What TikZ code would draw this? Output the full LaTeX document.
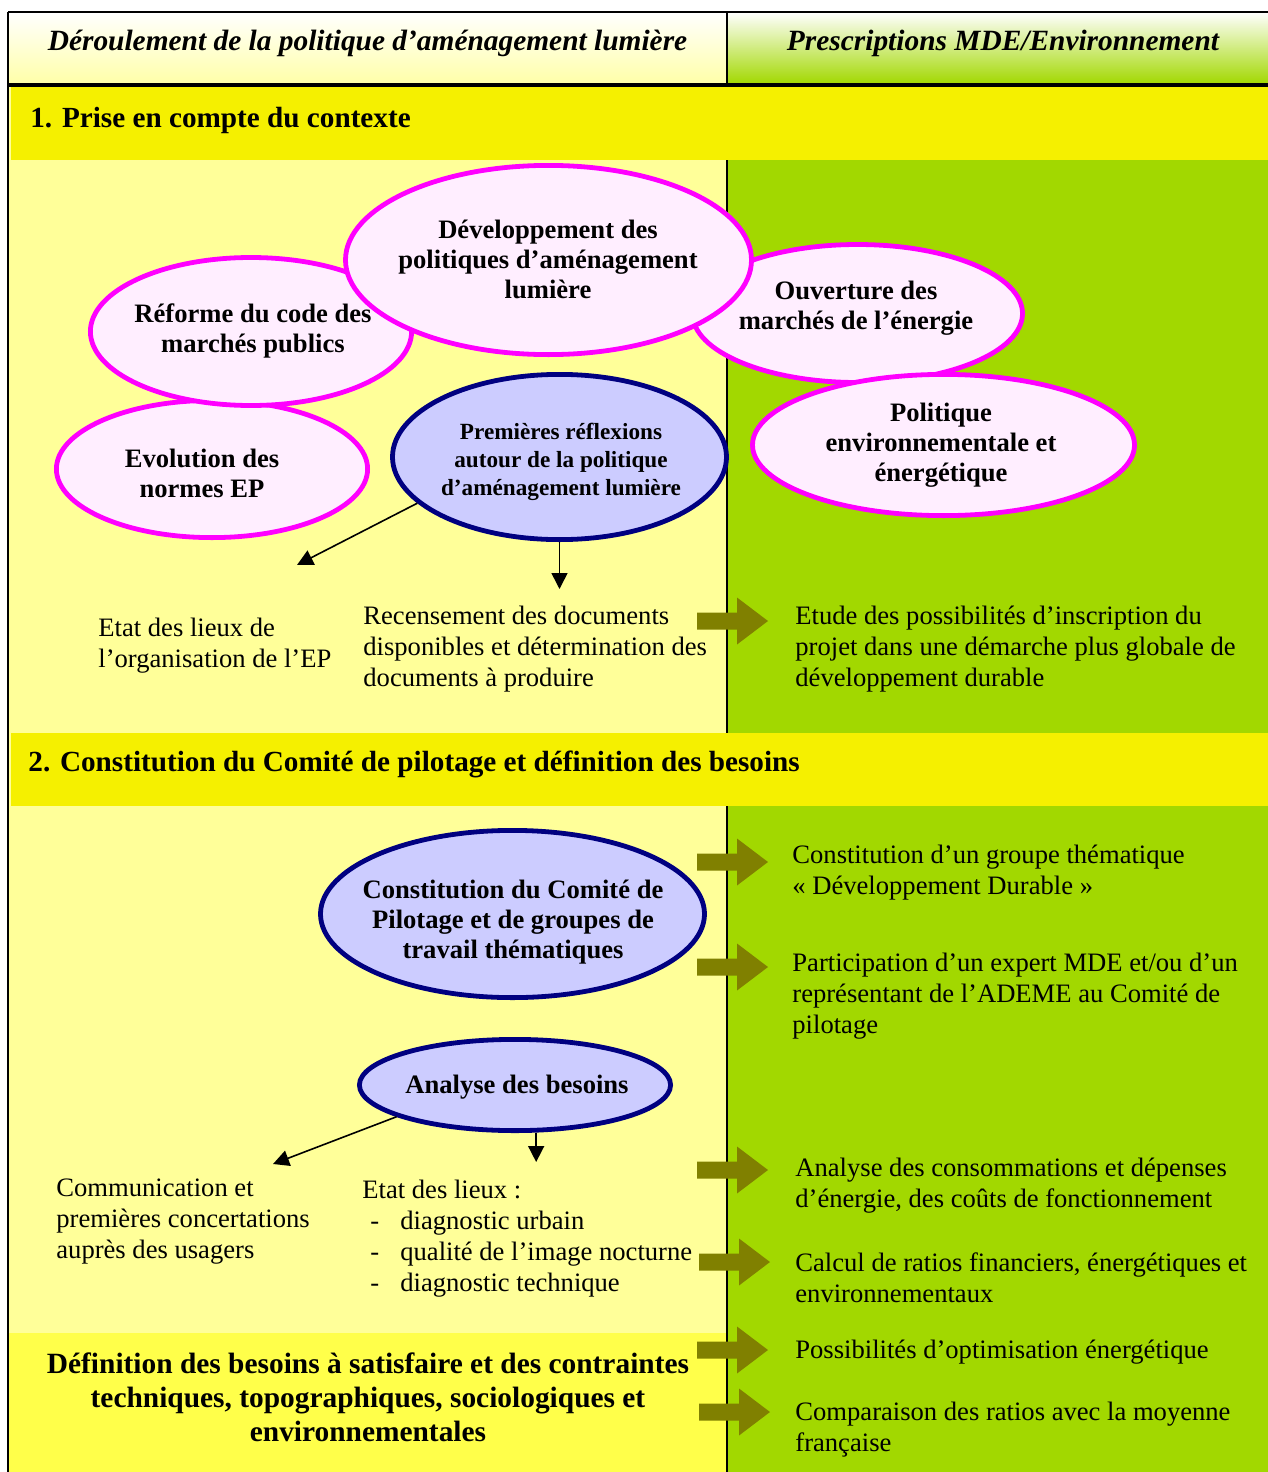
\documentclass[tikz,border=0pt]{standalone}
\usepackage{fontspec}
\setmainfont{Liberation Serif}
\usetikzlibrary{shapes.geometric,arrows.meta}
\definecolor{paleY}{HTML}{FFFF99}
\definecolor{greenR}{HTML}{A2D800}
\definecolor{bandY}{HTML}{F5F000}
\definecolor{boxY}{HTML}{FFFF4A}
\definecolor{pinkF}{HTML}{FFEEFF}
\definecolor{magB}{HTML}{FF00FF}
\definecolor{blueF}{HTML}{CCCCFF}
\definecolor{navyB}{HTML}{000080}
\definecolor{oliveA}{HTML}{808000}
\definecolor{hdrY}{HTML}{FFFFA8}
\newcommand\itm{\makebox[19pt][l]{\hspace{4pt}-}}
\newcommand\bigarr[2]{\fill[oliveA] (#1,#2) ++(0,-8.5) -- ++(40,0) -- ++(0,-15) -- ++(31,23.5) -- ++(-31,23.5) -- ++(0,-15) -- ++(-40,0) -- cycle;}
\begin{document}
\begin{tikzpicture}[x=0.5pt,y=-0.5pt,
  ell/.style={ellipse, draw=magB, fill=pinkF, line width=2.4pt, inner sep=0},
  bell/.style={ellipse, draw=navyB, fill=blueF, line width=2.4pt, inner sep=0},
  etxt/.style={font=\bfseries\fontsize{13.3}{15}\selectfont, align=center, inner sep=0},
  stxt/.style={font=\bfseries\fontsize{11.6}{14}\selectfont, align=center, inner sep=0},
  txt/.style={font=\fontsize{13.3}{15.5}\selectfont, align=left, inner sep=0, anchor=west},
  hdr/.style={font=\bfseries\itshape\fontsize{14.7}{17}\selectfont, inner sep=0},
  band/.style={font=\bfseries\fontsize{14.6}{17}\selectfont, inner sep=0, anchor=west},
  conn/.style={line width=0.8pt, -{Triangle[length=8pt,width=8pt]}},
]
\useasboundingbox (0,0) rectangle (1268,1472);
\fill[white] (0,0) rectangle (1268,1472);
% header
\shade[top color=white, bottom color=hdrY] (8,12) rectangle (727,84);
\shade[top color=white, bottom color=greenR] (727,12) rectangle (1268,84);
% backgrounds
\fill[paleY] (8,84) rectangle (727,1472);
\fill[greenR] (727,84) rectangle (1268,1472);
\fill[boxY] (8,1333) rectangle (727,1472);
\draw[line width=0.6pt] (727,12) -- (727,1472);
\fill[bandY] (11,87) rectangle (1268,160);
\fill[bandY] (11,733) rectangle (1268,806);
\draw[line width=0.8pt] (8,12) -- (1268,12);
\draw[line width=1.6pt] (8,85) -- (1268,85);
\draw[line width=0.6pt] (8,12) -- (8,1472);
% header texts
\node[hdr] (h1) at (367.5,43) {Déroulement de la politique d’aménagement lumière};
\node[hdr] (h2) at (1003,43) {Prescriptions MDE/Environnement};
\node[band] (s1) at (30,120) {1. Prise en compte du contexte};
\node[band] (s2) at (28,764) {2. Constitution du Comité de pilotage et définition des besoins};
% ellipses section 1
\node[ell, minimum width=155.6pt, minimum height=68.6pt] (evo) at (212,469) {};
\node[ell, minimum width=160.6pt, minimum height=74pt] (ref) at (251,331.5) {};
\node[ell, minimum width=165pt, minimum height=69pt] (ouv) at (857.5,313.5) {};
\node[ell, minimum width=191pt, minimum height=70.6pt] (pol) at (943.5,445) {};
\node[ell, minimum width=203pt, minimum height=94.6pt] (dev) at (548.5,260) {};
\node[bell, minimum width=167pt, minimum height=82.6pt] (prem) at (559.5,457) {};
\node[etxt] (evot) at (202,473) {Evolution des\\normes EP};
\node[etxt] (reft) at (253,331) {Réforme du code des\\marchés publics};
\node[etxt] (ouvt) at (856,308) {Ouverture des\\marchés de l’énergie};
\node[etxt] (polt) at (941,445) {Politique\\environnementale et\\énergétique};
\node[etxt] (devt) at (548,259) {Développement des\\politiques d’aménagement\\lumière};
\node[stxt] (premt) at (561,461.5) {Premières réflexions\\autour de la politique\\d’aménagement lumière};
% section 1 texts
\coordinate (tipA) at (297,565);
\coordinate (tipB) at (559.5,589);
\draw[conn] (prem.198.7) -- (tipA);
\draw[conn] (prem.south) -- (tipB);
\node[txt] (etatEP) at (98,645.5) {Etat des lieux de\\l’organisation de l’EP};
\node[txt] (recens) at (363,649) {Recensement des documents\\disponibles et détermination des\\documents à produire};
\node[txt] (etude) at (795,649) {Etude des possibilités d’inscription du\\projet dans une démarche plus globale de\\développement durable};
% section 2 ellipses
\node[bell, minimum width=192pt, minimum height=83.6pt] (const) at (512.5,914) {};
\node[bell, minimum width=155.6pt, minimum height=45.6pt] (ana) at (515,1085) {};
\node[etxt] (constt) at (513,922) {Constitution du Comité de\\Pilotage et de groupes de\\travail thématiques};
\node[etxt] (anat) at (517,1087) {Analyse des besoins};
\coordinate (tipC) at (273,1164);
\coordinate (tipD) at (536,1162);
\draw[conn] (ana.195) -- (tipC);
\draw[conn] (ana.-66) -- (ana.-66 |- tipD);
\node[txt] (comm) at (56,1222) {Communication et\\premières concertations\\auprès des usagers};
\node[txt] (etatL) at (362,1238.5) {Etat des lieux :\\\itm diagnostic urbain\\\itm qualité de l’image nocturne\\\itm diagnostic technique};
\node[font=\bfseries\fontsize{14.7}{17}\selectfont, align=center, inner sep=0] (defb) at (368,1397) {Définition des besoins à satisfaire et des contraintes\\techniques, topographiques, sociologiques et\\environnementales};
% right texts
\node[txt] (grp) at (792,872.5) {Constitution d’un groupe thématique\\« Développement Durable »};
\node[txt] (part) at (792,996) {Participation d’un expert MDE et/ou d’un\\représentant de l’ADEME au Comité de\\pilotage};
\node[txt] (cons) at (795,1185.5) {Analyse des consommations et dépenses\\d’énergie, des coûts de fonctionnement};
\node[txt] (calc) at (795,1277.5) {Calcul de ratios financiers, énergétiques et\\environnementaux};
\node[txt] (opt) at (795,1352) {Possibilités d’optimisation énergétique};
\node[txt] (comp) at (795,1429.5) {Comparaison des ratios avec la moyenne\\française};
% big arrows
\bigarr{697}{621}
\bigarr{697}{862}
\bigarr{697}{967}
\bigarr{697}{1170}
\bigarr{699}{1262}
\bigarr{697}{1350}
\bigarr{699}{1412}
\end{tikzpicture}
\end{document}
